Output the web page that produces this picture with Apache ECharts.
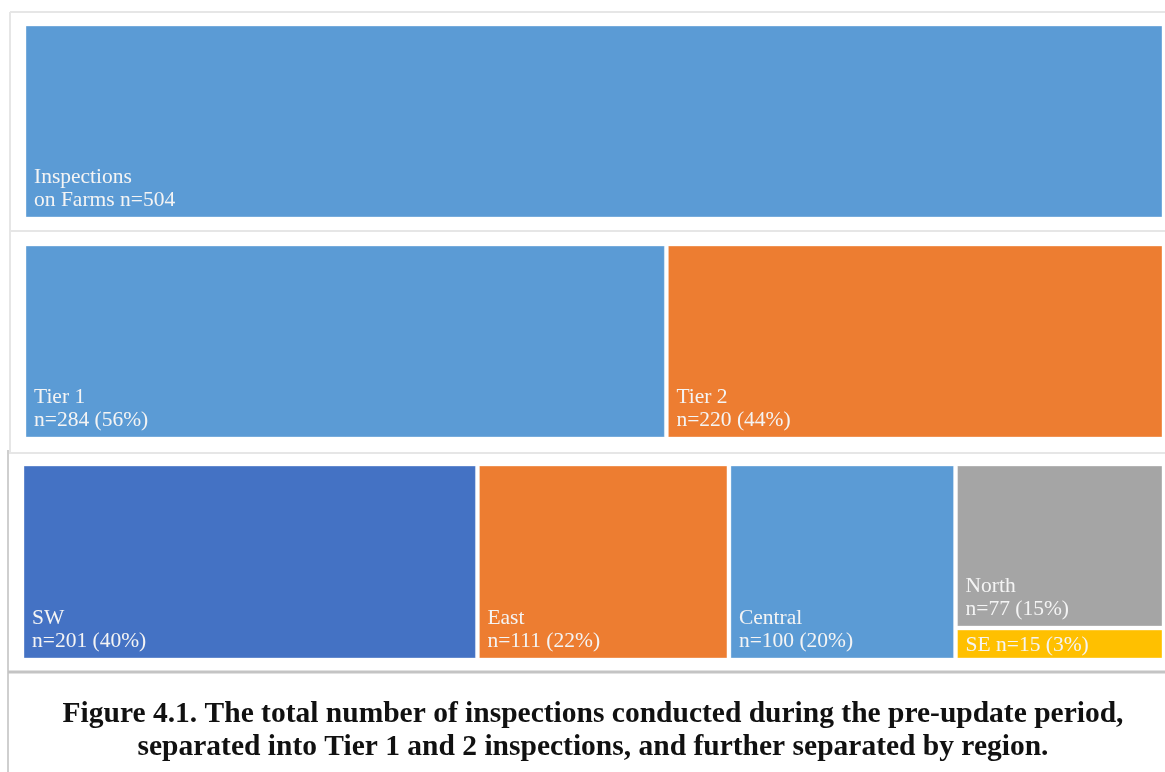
<!DOCTYPE html>
<html>
<head>
<meta charset="utf-8">
<title>Inspections on Farms</title>
<script src="https://cdn.jsdelivr.net/npm/echarts@6/dist/echarts.min.js"></script>
<style>
  html, body { margin: 0; padding: 0; background: #ffffff; }
  #chart { width: 1165px; height: 772px; }
</style>
</head>
<body>
<div id="chart"></div>
<script>
// Inspection counts, pre-update period
const totalLabel = ['Inspections', 'on Farms'];
const totalValue = 504;

const tierNames = ['Tier 1', 'Tier 2'];
const tierValues = [284, 220];

const regionNames = ['SW', 'East', 'Central', 'North', 'SE'];
const regionValues = [201, 111, 100, 77, 15];
// North and SE share one column, stacked vertically
const regionColumn = [0, 1, 2, 3, 3];

const totalColors = ['#5B9BD5'];
const tierColors = ['#5B9BD5', '#ED7D31'];
const regionColors = ['#4472C4', '#ED7D31', '#5B9BD5', '#A5A5A5', '#FFC000'];

const pct = v => Math.round(v / totalValue * 100) + '%';

// Build [x0, x1, y0, y1, colorIndex, label] tiles: x in counts, y in 0..1 of the column
function buildTiles(values, columns, labels, colors) {
  const colTotals = {};
  values.forEach((v, i) => { colTotals[columns[i]] = (colTotals[columns[i]] || 0) + v; });
  const colStart = {};
  let acc = 0;
  Object.keys(colTotals).map(Number).sort((a, b) => a - b).forEach(c => {
    colStart[c] = acc; acc += colTotals[c];
  });
  const colCum = {};
  return values.map((v, i) => {
    const c = columns[i];
    const ct = colTotals[c];
    const cum = colCum[c] || 0;
    colCum[c] = cum + v;
    return {
      value: [colStart[c], colStart[c] + ct, 1 - (cum + v) / ct, 1 - cum / ct, i, labels[i]],
      itemStyle: { color: colors[i] }
    };
  });
}

const row1 = buildTiles([totalValue], [0],
  [totalLabel[0] + '\n' + totalLabel[1] + ' n=' + totalValue], totalColors);
const row2 = buildTiles(tierValues, [0, 1],
  tierNames.map((n, i) => n + '\nn=' + tierValues[i] + ' (' + pct(tierValues[i]) + ')'), tierColors);
const row3 = buildTiles(regionValues, regionColumn,
  regionNames.map((n, i) => n + '\nn=' + regionValues[i] + ' (' + pct(regionValues[i]) + ')'), regionColors);

const FONT = '"Liberation Serif", "Times New Roman", serif';
const GAP = 2;

function renderTile(params, api) {
  const tl = api.coord([api.value(0), api.value(3)]);
  const br = api.coord([api.value(1), api.value(2)]);
  const x = tl[0] + GAP, y = tl[1] + GAP;
  const w = br[0] - tl[0] - 2 * GAP, h = br[1] - tl[1] - 2 * GAP;
  const label = api.value(5);
  const fill = api.visual('color');
  const small = h < 45;
  return {
    type: 'group',
    children: [
      {
        type: 'rect',
        shape: { x: x, y: y, width: w, height: h },
        style: { fill: fill, stroke: 'rgba(255,255,255,0.35)', lineWidth: 1 }
      },
      {
        type: 'text',
        x: x + 8,
        y: small ? y + h / 2 + 1 : y + h - 4.5,
        style: {
          text: small ? String(label).replace('\n', ' ') : label,
          fill: '#f4f4f4',
          font: '21.5px ' + FONT,
          lineHeight: 23.5,
          align: 'left',
          verticalAlign: small ? 'middle' : 'bottom'
        }
      }
    ]
  };
}

const grids = [
  { left: 24, right: 1, top: 24, height: 195 },
  { left: 24, right: 1, top: 244, height: 195 },
  { left: 22, right: 1, top: 464, height: 196 }
];

const rows = [row1, row2, row3];

const chart = echarts.init(document.getElementById('chart'), null, { renderer: 'canvas' });

chart.setOption({
  animation: false,
  backgroundColor: '#ffffff',
  grid: grids,
  xAxis: grids.map((g, i) => ({ type: 'value', gridIndex: i, min: 0, max: totalValue, show: false })),
  yAxis: grids.map((g, i) => ({ type: 'value', gridIndex: i, min: 0, max: 1, show: false })),
  series: rows.map((data, i) => ({
    type: 'custom',
    xAxisIndex: i,
    yAxisIndex: i,
    renderItem: renderTile,
    data: data,
    encode: { x: [0, 1], y: [2, 3] }
  })),
  graphic: [
    // frame lines around the panels
    { type: 'line', shape: { x1: 10, y1: 12, x2: 1165, y2: 12 }, style: { stroke: '#e6e6e6', lineWidth: 2 } },
    { type: 'line', shape: { x1: 10, y1: 12, x2: 10, y2: 452 }, style: { stroke: '#e6e6e6', lineWidth: 2 } },
    { type: 'line', shape: { x1: 10, y1: 231, x2: 1165, y2: 231 }, style: { stroke: '#e6e6e6', lineWidth: 2 } },
    { type: 'line', shape: { x1: 8, y1: 453, x2: 1165, y2: 453 }, style: { stroke: '#e6e6e6', lineWidth: 2 } },
    { type: 'line', shape: { x1: 8, y1: 450, x2: 8, y2: 772 }, style: { stroke: '#cfcfcf', lineWidth: 2 } },
    { type: 'line', shape: { x1: 8, y1: 672, x2: 1165, y2: 672 }, style: { stroke: '#c4c4c4', lineWidth: 3 } },
    // figure caption
    {
      type: 'text',
      x: 593,
      y: 698,
      style: {
        text: 'Figure 4.1. The total number of inspections conducted during the pre-update period,\nseparated into Tier 1 and 2 inspections, and further separated by region.',
        font: 'bold 29.5px ' + FONT,
        lineHeight: 33,
        fill: '#111111',
        align: 'center',
        verticalAlign: 'top'
      }
    }
  ]
});
</script>
</body>
</html>
